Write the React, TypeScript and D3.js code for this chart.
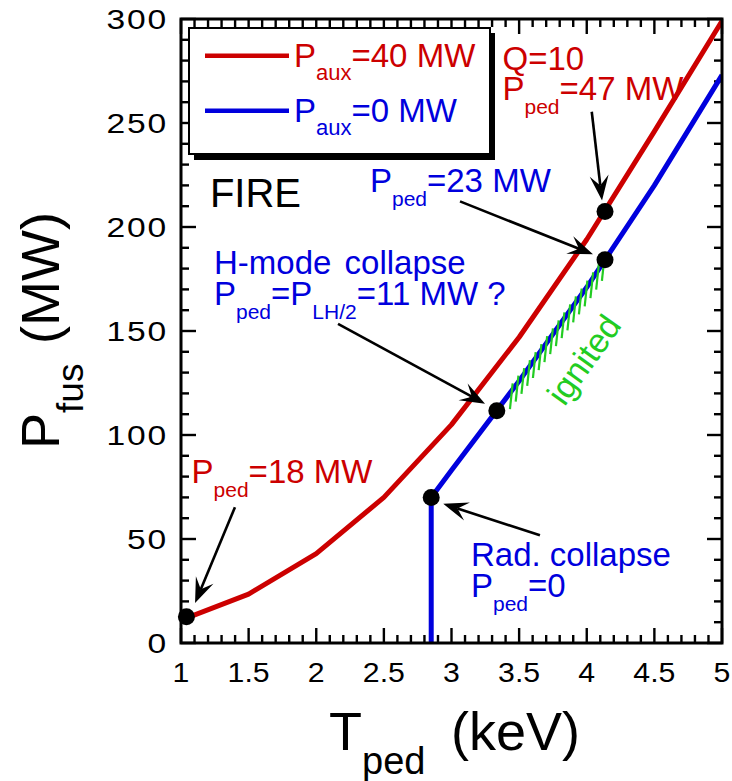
import React from "react";
import * as d3 from "d3";

// Pedestal temperature scan: fusion power vs T_ped for two auxiliary-power cases
const tAux40: number[] = [1.0, 1.5, 2.0, 2.5, 3.0, 3.5, 4.0, 4.5, 5.0];
const pAux40: number[] = [11, 23.5, 43, 70, 105, 147, 194, 246, 299];

const tAux0: number[] = [2.85, 2.85, 3.0, 3.5, 4.0, 4.5, 5.0];
const pAux0: number[] = [0, 70, 83, 126, 171, 220, 273];

// Marked operating points
const dotT: number[] = [1.04, 2.85, 3.335, 4.135, 4.135];
const dotP: number[] = [12.6, 70, 111.7, 184.2, 207.5];

// Ignited stretch of the P_aux=0 branch
const ignitedFrom = 3.42;
const ignitedTo = 4.1;
const ignitedCount = 17;

const xTickLabels: string[] = ["1", "1.5", "2", "2.5", "3", "3.5", "4", "4.5", "5"];
const yTickLabels: string[] = ["0", "50", "100", "150", "200", "250", "300"];

// Annotation arrows: [tailT, tailP, tipT, tipP]
const arrows: number[][] = [
  [4.037, 255.4, 4.113, 212.8],
  [3.063, 212.3, 4.046, 186.9],
  [2.161, 153.4, 3.248, 115.0],
  [1.399, 65.3, 1.104, 19.2],
  [3.654, 51.8, 2.939, 66.9],
];

const FONT = '"Liberation Sans", Arial, Helvetica, sans-serif';
const RED = "#cc0000";
const BLUE = "#0000dd";
const GREEN = "#22cc22";

type Seg = { t: string; sub?: boolean };

function RichText({
  x, y, segs, fill, size, subSize, shift, wordSpacing,
}: {
  x: number; y: number; segs: Seg[]; fill: string; size: number; subSize: number; shift: number; wordSpacing?: number;
}) {
  let inSub = false;
  return (
    <text x={x} y={y} fill={fill} fontSize={size} fontFamily={FONT} style={{ wordSpacing: wordSpacing ?? 0 }} xmlSpace="preserve">
      {segs.map((s, i) => {
        let dy = 0;
        if (s.sub && !inSub) { dy = shift; inSub = true; }
        else if (!s.sub && inSub) { dy = -shift; inSub = false; }
        return (
          <tspan key={i} dy={dy} fontSize={s.sub ? subSize : size}>{s.t}</tspan>
        );
      })}
    </text>
  );
}

function Arrow({ x1, y1, x2, y2 }: { x1: number; y1: number; x2: number; y2: number }) {
  const dx = x2 - x1, dy = y2 - y1;
  const len = Math.hypot(dx, dy);
  const ux = dx / len, uy = dy / len;
  const nx = -uy, ny = ux;
  const L = 25, Wd = 9.5, notch = 15;
  const bx = x2 - ux * L, by = y2 - uy * L;
  const pts = [
    [x2, y2],
    [bx + nx * Wd, by + ny * Wd],
    [x2 - ux * notch, y2 - uy * notch],
    [bx - nx * Wd, by - ny * Wd],
  ];
  return (
    <g>
      <line x1={x1} y1={y1} x2={x2 - ux * notch} y2={y2 - uy * notch} stroke="#000" strokeWidth={2.6} />
      <polygon points={pts.map((p) => p.join(",")).join(" ")} fill="#000" />
    </g>
  );
}

export default function App() {
  const left = 181, right = 722, top = 19, bottom = 643;
  const x = d3.scaleLinear().domain([1, 5]).range([left, right]);
  const y = d3.scaleLinear().domain([0, 300]).range([bottom, top]);

  const line = d3
    .line<[number, number]>()
    .x((d) => x(d[0]))
    .y((d) => y(d[1]));

  const redPts: [number, number][] = tAux40.map((t, i) => [t, pAux40[i]]);
  const bluePts: [number, number][] = tAux0.map((t, i) => [t, pAux0[i]]);

  const xMajor = d3.range(0, 9).map((i) => 1 + i * 0.5);
  const xMinor = d3.range(0, 41).map((i) => 1 + i * 0.1).filter((v) => Math.abs(v * 2 - Math.round(v * 2)) > 1e-6);
  const yMajor = d3.range(0, 7).map((i) => i * 50);
  const yMinor = d3.range(0, 31).map((i) => i * 10).filter((v) => v % 50 !== 0);

  const majLen = 15, minLen = 8;

  // position on the P_aux=0 branch (rising part) for a given T
  const blueAt = (t: number) => {
    const tt = tAux0.slice(1), pp = pAux0.slice(1);
    for (let i = 0; i < tt.length - 1; i++) {
      if (t >= tt[i] && t <= tt[i + 1]) {
        const f = (t - tt[i]) / (tt[i + 1] - tt[i]);
        return pp[i] + f * (pp[i + 1] - pp[i]);
      }
    }
    return pp[pp.length - 1];
  };

  const hatch = d3.range(ignitedCount).map((i) => {
    const t = ignitedFrom + (i * (ignitedTo - ignitedFrom)) / (ignitedCount - 1);
    const px = x(t), py = y(blueAt(t));
    const ang = (84 * Math.PI) / 180;
    const dx = Math.cos(ang), dy = -Math.sin(ang);
    const cx = px + 3, cy = py + 1;
    const h = 13;
    return { x1: cx - dx * h, y1: cy - dy * h, x2: cx + dx * h, y2: cy + dy * h };
  });

  const sub = (t: string): Seg => ({ t, sub: true });
  const main = (t: string): Seg => ({ t });

  const ann = { fill: "", size: 33, subSize: 21, shift: 14 };

  return (
    <svg
      width={732}
      height={781}
      style={{ position: "absolute", left: 0, top: 0, display: "block", background: "#fff" }}
      fontFamily={FONT}
    >
      <defs>
        <clipPath id="plot-area">
          <rect x={left} y={top} width={right - left} height={bottom - top} />
        </clipPath>
      </defs>
      <rect x={0} y={0} width={732} height={781} fill="#fff" />

      {/* ticks on all four sides, pointing inward */}
      <g stroke="#000" strokeWidth={2.4}>
        {xMajor.map((v) => (
          <g key={"xM" + v}>
            <line x1={x(v)} x2={x(v)} y1={bottom} y2={bottom - majLen} />
            <line x1={x(v)} x2={x(v)} y1={top} y2={top + majLen} />
          </g>
        ))}
        {xMinor.map((v) => (
          <g key={"xm" + v}>
            <line x1={x(v)} x2={x(v)} y1={bottom} y2={bottom - minLen} />
            <line x1={x(v)} x2={x(v)} y1={top} y2={top + minLen} />
          </g>
        ))}
        {yMajor.map((v) => (
          <g key={"yM" + v}>
            <line x1={left} x2={left + majLen} y1={y(v)} y2={y(v)} />
            <line x1={right} x2={right - majLen} y1={y(v)} y2={y(v)} />
          </g>
        ))}
        {yMinor.map((v) => (
          <g key={"ym" + v}>
            <line x1={left} x2={left + minLen} y1={y(v)} y2={y(v)} />
            <line x1={right} x2={right - minLen} y1={y(v)} y2={y(v)} />
          </g>
        ))}
      </g>

      {/* tick labels */}
      <g fontSize={28} fill="#000">
        {xMajor.map((v, i) => (
          <text key={"xl" + v} transform={`translate(${x(v)},682) scale(1.08,1)`} textAnchor="middle">
            {xTickLabels[i]}
          </text>
        ))}
        {yMajor.map((v, i) => (
          <text key={"yl" + v} transform={`translate(168,${y(v) + 10}) scale(1.2,1)`} textAnchor="end" letterSpacing={1.5}>
            {yTickLabels[i]}
          </text>
        ))}
      </g>

      {/* axis titles */}
      <text x={329} y={750} fontSize={54} fill="#000">
        <tspan>T</tspan>
        <tspan fontSize={38} dy={24}>ped</tspan>
        <tspan x={451} dy={-24}>(keV)</tspan>
      </text>
      <g transform="translate(59,449) rotate(-90)">
        <text x={0} y={0} fontSize={54} fill="#000">
          <tspan>P</tspan>
          <tspan fontSize={37} dy={24}>fus</tspan>
          <tspan x={105} dy={-24}>(MW)</tspan>
        </text>
      </g>

      {/* curves */}
      <g clipPath="url(#plot-area)" fill="none" strokeLinejoin="round">
        <path d={line(redPts) ?? ""} stroke={RED} strokeWidth={5} />
        <path d={line(bluePts) ?? ""} stroke={BLUE} strokeWidth={5} />
      </g>

      {/* ignited hatch */}
      <g stroke={GREEN} strokeWidth={2.2}>
        {hatch.map((h, i) => (
          <line key={"h" + i} x1={h.x1} y1={h.y1} x2={h.x2} y2={h.y2} />
        ))}
      </g>
      <text
        transform={`translate(${x(4.05)},${y(133)}) rotate(-54.5)`}
        textAnchor="middle"
        fontSize={34}
        fill={GREEN}
      >
        ignited
      </text>

      {/* operating points */}
      {dotT.map((t, i) => (
        <circle key={"d" + i} cx={x(t)} cy={y(dotP[i])} r={8.5} fill="#000" />
      ))}

      {/* arrows */}
      {arrows.map((a, i) => (
        <Arrow key={"a" + i} x1={x(a[0])} y1={y(a[1])} x2={x(a[2])} y2={y(a[3])} />
      ))}

      {/* frame */}
      <rect x={left} y={top} width={right - left} height={bottom - top} fill="none" stroke="#000" strokeWidth={3} />

      {/* legend */}
      <rect x={194} y={33} width={301} height={127} fill="#000" />
      <rect x={189} y={28} width={301} height={126} fill="#fff" stroke="#000" strokeWidth={2} />
      <line x1={205} x2={289} y1={55.7} y2={55.7} stroke={RED} strokeWidth={4.5} />
      <line x1={205} x2={289} y1={110.7} y2={110.7} stroke={BLUE} strokeWidth={4.5} />
      <RichText x={294} y={67} segs={[main("P"), sub("aux"), main("=40 MW")]} fill={RED} size={33} subSize={22} shift={13} />
      <RichText x={294} y={122} segs={[main("P"), sub("aux"), main("=0 MW")]} fill={BLUE} size={33} subSize={22} shift={13} />

      {/* annotations */}
      <text x={x(1.214)} y={y(209.4)} fontSize={40} fill="#000">FIRE</text>
      <text x={x(3.377)} y={y(275.6)} fontSize={ann.size} fill={RED}>Q=10</text>
      <RichText x={x(3.377)} y={y(261.2)} segs={[main("P"), sub("ped"), main("=47 MW")]} {...ann} fill={RED} />
      <RichText x={x(2.397)} y={y(216.6)} segs={[main("P"), sub("ped"), main("=23 MW")]} {...ann} fill={BLUE} />
      <RichText x={x(1.244)} y={y(177.3)} segs={[main("H-mode collapse")]} {...ann} fill={BLUE} wordSpacing={4} />
      <RichText
        x={x(1.244)}
        y={y(162.5)}
        segs={[main("P"), sub("ped"), main("=P"), sub("LH/2"), main("=11 MW ?")]}
        {...ann}
        fill={BLUE}
      />
      <RichText x={x(1.078)} y={y(76.7)} segs={[main("P"), sub("ped"), main("=18 MW")]} {...ann} fill={RED} />
      <RichText x={x(3.144)} y={y(36.9)} segs={[main("Rad. collapse")]} {...ann} fill={BLUE} />
      <RichText x={x(3.144)} y={y(22.0)} segs={[main("P"), sub("ped"), main("=0")]} {...ann} fill={BLUE} />
    </svg>
  );
}
